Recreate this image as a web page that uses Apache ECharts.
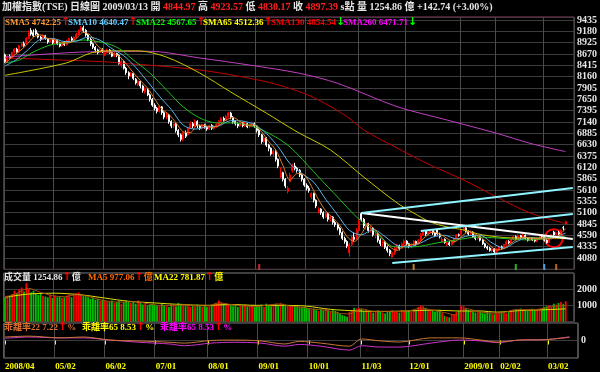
<!DOCTYPE html>
<html><head><meta charset="utf-8">
<script src="https://cdn.jsdelivr.net/npm/echarts@6/dist/echarts.min.js"></script>
<style>html,body{margin:0;padding:0;background:#000;}#c{width:600px;height:372px;}</style>
</head><body><div id="c"></div>
<script>
// ---------- DATA ----------
const tradingDays = [
 ['2008','04',[1,2,3,7,8,9,10,11,14,15,16,17,18,21,22,23,24,25,28,29,30]],
 ['2008','05',[2,5,6,7,8,9,12,13,14,15,16,19,20,21,22,23,26,27,28,29,30]],
 ['2008','06',[2,3,4,5,6,9,10,11,12,13,16,17,18,19,20,23,24,25,26,27,30]],
 ['2008','07',[1,2,3,4,7,8,9,10,11,14,15,16,17,18,21,22,23,24,25,29,30,31]],
 ['2008','08',[1,4,5,6,7,8,11,12,13,14,15,18,19,20,21,22,25,26,27,28,29]],
 ['2008','09',[1,2,3,4,5,8,9,10,11,12,15,16,17,18,19,22,23,24,25,26,30]],
 ['2008','10',[1,2,3,6,7,8,9,13,14,15,16,17,20,21,22,23,24,27,28,29,30,31]],
 ['2008','11',[3,4,5,6,7,10,11,12,13,14,17,18,19,20,21,24,25,26,27,28]],
 ['2008','12',[1,2,3,4,5,8,9,10,11,12,15,16,17,18,19,22,23,24,25,26,29,30,31]],
 ['2009','01',[5,6,7,8,9,10,12,13,14,15,16,19,20,21,22]],
 ['2009','02',[2,3,4,5,6,9,10,11,12,13,16,17,18,19,20,23,24,25,26,27]],
 ['2009','03',[2,3,4,5,6,9,10,11,12,13]]
];
const padCategories = ['p1','p2','p3'];

const opens = [
8650,8500,8620,8580,8700,8780,8720,8850,8900,8900,9020,9200,9150,9200,9120,9050,9000,9080,9000,8940,8990,
8920,8980,8900,8850,8920,8880,8950,9020,8980,9050,9120,9200,9260,9200,9100,9000,8900,8820,8760,8700,8760,
8640,8700,8760,8700,8620,8680,8640,8420,8500,8350,8250,8180,8230,8100,7980,8050,7950,7820,7880,7750,7650,
7520,7450,7380,7480,7350,7250,7300,7150,7050,7100,6950,6850,6750,6900,6850,7000,7100,7050,7150,7050,7000,7080,
7020,6980,7060,7000,7040,7080,7150,7220,7180,7260,7340,7250,7150,7100,7050,7120,7060,7100,7030,7080,7100,
7050,6950,6850,6700,6780,6620,6550,6420,6480,6300,5900,6000,5850,5580,5800,6050,6150,6100,6050,5950,5850,
5720,5650,5450,5530,5380,5100,5180,5100,5000,5080,4950,5000,4880,4830,4750,4650,4520,4450,4200,4380,4550,4500,
4700,5080,4950,4800,4850,4700,4750,4600,4620,4480,4400,4450,4320,4250,4100,4200,4300,4350,4300,4400,
4460,4400,4340,4380,4450,4400,4480,4600,4680,4620,4660,4700,4640,4720,4620,4440,4500,4380,4420,4380,4440,4520,4600,
4600,4700,4760,4680,4620,4660,4560,4520,4560,4480,4400,4330,4300,4250,4280,
4220,4260,4330,4300,4380,4450,4420,4500,4560,4520,4580,4540,4590,4520,4480,4530,4490,4460,4520,4580,
4557,4480,4430,4520,4660,4600,4650,4620,4760,4844.97];
const closes = [
8500,8620,8580,8700,8780,8720,8850,8900,8860,9020,9150,9120,9080,9120,9050,9000,9080,9020,8940,8990,8920,
8980,8900,8850,8920,8880,8950,9020,8980,9050,9120,9200,9260,9200,9100,9000,8900,8820,8760,8700,8760,8720,
8700,8760,8700,8620,8680,8640,8450,8500,8350,8250,8180,8230,8120,8020,8060,7950,7850,7880,7750,7650,7520,
7450,7380,7480,7350,7250,7320,7150,7050,7100,6950,6850,6750,6900,6820,7000,7100,7050,7150,7050,7000,7080,7020,
6980,7060,7000,7040,7080,7150,7220,7180,7260,7340,7250,7150,7100,7050,7120,7060,7100,7030,7080,7100,7050,
6950,6850,6700,6780,6620,6550,6420,6480,6300,6150,6000,5850,5700,5650,5950,6150,6100,6050,5950,5850,5720,
5650,5600,5530,5380,5250,5180,5100,5000,5080,4950,5000,4880,4830,4750,4650,4520,4450,4350,4380,4550,4500,4700,
4900,4950,4800,4850,4700,4750,4600,4620,4480,4400,4450,4320,4250,4180,4200,4300,4350,4300,4400,4460,
4400,4340,4380,4450,4400,4480,4600,4680,4620,4660,4700,4640,4580,4620,4560,4500,4430,4420,4380,4440,4520,4600,4591,
4700,4760,4680,4620,4660,4560,4520,4560,4480,4400,4330,4300,4250,4280,4220,
4260,4330,4300,4380,4450,4420,4500,4560,4520,4580,4540,4590,4520,4480,4530,4490,4460,4520,4580,4557,
4480,4430,4520,4600,4600,4650,4620,4700,4755,4897.39];
const lows = [
8470,8480,8550,8560,8680,8700,8700,8820,8830,8880,9000,9080,9050,9090,9020,8960,8980,8990,8900,8910,8880,
8900,8870,8820,8830,8850,8860,8930,8950,8960,9030,9100,9180,9150,9060,8960,8850,8780,8700,8660,8680,8690,
8620,8680,8670,8600,8600,8600,8430,8360,8320,8200,8100,8150,8080,7980,7950,7900,7800,7780,7720,7600,7480,
7400,7330,7350,7300,7200,7200,7100,7000,7000,6900,6800,6700,6710,6780,6830,6980,7000,7030,7000,6960,6970,6990,
6940,6960,6960,6970,7010,7060,7130,7150,7160,7240,7200,7100,7060,7000,7030,7020,7030,7000,7000,7040,7010,
6900,6800,6650,6660,6580,6480,6380,6350,6250,6100,5880,5800,5650,5530,5780,6000,6050,6000,5900,5800,5680,
5600,5550,5400,5330,5200,5080,5050,4960,4980,4900,4900,4830,4780,4700,4600,4480,4400,4300,4110,4350,4450,4480,
4680,4900,4750,4720,4650,4650,4560,4520,4430,4350,4330,4280,4200,4120,4090,4150,4260,4250,4280,4370,
4360,4300,4300,4350,4360,4380,4460,4580,4580,4600,4640,4600,4550,4600,4520,4420,4400,4350,4350,4360,4420,4500,4560,
4590,4680,4650,4580,4600,4530,4480,4490,4450,4370,4300,4260,4220,4200,4180,
4190,4240,4270,4280,4360,4390,4400,4480,4490,4500,4510,4520,4490,4450,4460,4460,4430,4440,4500,4530,
4450,4400,4410,4500,4580,4580,4590,4600,4700,4830.17];
const highs = [
8680,8640,8660,8720,8800,8810,8870,8940,8950,9050,9200,9250,9220,9240,9150,9080,9110,9100,9030,9020,9010,
9010,9000,8930,8950,8960,8990,9040,9060,9080,9150,9220,9300,9309,9230,9120,9030,8930,8850,8790,8790,8800,
8730,8790,8780,8720,8710,8700,8660,8560,8520,8380,8280,8260,8250,8130,8080,8070,7980,7920,7900,7780,7680,
7560,7480,7500,7500,7380,7350,7320,7180,7150,7120,6980,6880,6920,6950,7030,7150,7140,7200,7180,7080,7100,7100,
7050,7080,7090,7070,7120,7180,7250,7260,7300,7370,7370,7270,7180,7130,7150,7140,7140,7120,7110,7150,7130,
7070,6980,6870,6820,6800,6650,6570,6520,6500,6320,6120,6020,5880,5700,6000,6200,6220,6130,6080,5980,5880,
5760,5700,5560,5550,5400,5220,5200,5130,5120,5100,5040,5020,4920,4860,4780,4680,4560,4480,4420,4600,4650,4750,
4950,5115,4980,4880,4870,4800,4770,4680,4650,4520,4480,4470,4360,4280,4250,4330,4400,4380,4430,4500,
4480,4420,4420,4480,4470,4500,4640,4710,4710,4700,4720,4720,4670,4740,4650,4560,4520,4450,4460,4470,4550,4620,4630,
4730,4780,4790,4700,4700,4680,4590,4580,4580,4500,4420,4360,4330,4310,4300,
4300,4360,4360,4400,4480,4480,4530,4590,4590,4610,4600,4620,4610,4540,4560,4550,4510,4540,4600,4600,
4570,4500,4540,4620,4690,4680,4690,4720,4800,4923.57];
const volumes = [
1450,1600,1550,1700,1900,1750,2000,2100,1850,2375,2000,1800,1900,1700,1650,1750,1600,1550,1500,1650,1450,
1600,1500,1550,1450,1500,1600,1650,1500,1700,1750,1800,1650,1600,1550,1500,1400,1450,1350,1400,1300,1350,
1300,1250,1200,1300,1150,1200,1250,1100,1200,1300,1250,1150,1200,1100,1300,1150,1050,1100,1000,1050,1100,
1050,1000,950,1100,1000,950,900,1050,1000,950,1150,1100,1000,950,1050,900,1000,950,1050,1000,900,950,
900,950,1000,1050,1100,1300,1200,1100,1150,1050,1000,950,1000,900,950,1000,1050,900,950,1000,900,
950,1000,1050,900,1100,1000,950,1050,1100,1000,1150,1100,1050,1000,950,900,1000,950,900,850,900,
850,800,750,800,700,650,750,700,800,650,600,700,650,600,500,400,350,300,600,700,850,800,
850,800,650,700,600,650,550,600,700,650,550,500,600,650,700,650,600,550,700,650,
650,700,600,700,650,900,1000,950,850,700,650,700,600,650,700,550,350,300,250,400,450,600,650,
1000,950,800,700,650,600,550,650,600,550,500,600,550,500,450,
500,550,600,550,500,600,650,700,750,700,800,750,700,650,750,800,700,750,800,750,
900,950,1000,900,1100,1050,1150,1200,1100,1255];

// moving averages: [day index, value]
const sma5 = [[0,8450],[3,8600],[6,8730],[9,8870],[12,9050],[15,9100],[18,9020],[21,8990],[24,8920],[27,8920],[30,9020],[33,9160],[36,9090],[39,8850],[42,8740],[45,8690],[48,8620],[51,8450],[54,8250],[57,8070],[60,7900],[63,7660],[66,7430],[69,7310],[72,7120],[75,6920],[78,6900],[81,7070],[84,7060],[87,7020],[90,7060],[93,7180],[96,7240],[99,7150],[102,7070],[105,7070],[108,6920],[111,6700],[114,6510],[117,6160],[120,5830],[123,5980],[126,5950],[129,5690],[132,5390],[135,5140],[138,4980],[141,4810],[144,4560],[147,4450],[150,4620],[153,4840],[156,4700],[159,4520],[162,4330],[165,4250],[168,4360],[171,4380],[174,4410],[177,4560],[180,4660],[183,4620],[186,4520],[189,4440],[192,4550],[195,4670],[198,4610],[201,4520],[204,4370],[207,4260],[210,4290],[213,4410],[216,4510],[219,4550],[222,4520],[225,4510],[228,4510],[231,4520],[234,4630],[236,4742.25]];
const sma10 = [[0,8400],[5,8550],[10,8780],[15,9000],[20,9020],[25,8950],[30,8960],[35,9050],[40,8980],[45,8790],[50,8630],[55,8370],[60,8050],[65,7720],[70,7420],[75,7070],[80,6980],[85,7030],[90,7050],[95,7170],[100,7160],[105,7080],[110,6880],[115,6580],[120,6200],[125,5980],[130,5780],[135,5400],[140,5050],[145,4700],[150,4600],[155,4720],[160,4560],[165,4360],[170,4330],[175,4420],[180,4550],[185,4590],[190,4510],[195,4580],[200,4590],[205,4420],[210,4300],[215,4440],[220,4540],[225,4520],[230,4530],[236,4640.47]];
const sma22 = [[0,8470],[6,8535],[12,8715],[19,8870],[26,8920],[33,8985],[40,8940],[45,8870],[49,8760],[53,8580],[61,8240],[68,7860],[75,7480],[82,7230],[89,7120],[95,7120],[105,7030],[114,6800],[119,6620],[123,6420],[132,5900],[140,5450],[148,5000],[155,4710],[164,4330],[172,4330],[182,4420],[190,4485],[199,4550],[207,4530],[221,4485],[232,4550],[236,4567.65]];
const sma65 = [[0,8190],[26,8470],[36,8690],[44,8740],[56,8740],[68,8600],[82,8240],[95,7815],[110,7340],[123,6915],[137,6510],[151,5900],[165,5320],[172,5092],[179,4890],[186,4780],[193,4710],[201,4600],[214,4530],[229,4530],[236,4512.36]];
const sma130 = [[0,8580],[40,8500],[48,8470],[82,8310],[110,8045],[124,7820],[132,7635],[144,7260],[151,6960],[165,6555],[179,6172],[193,5835],[207,5452],[221,5092],[236,4854.54]];
const sma260 = [[0,8600],[36,8720],[61,8730],[82,8580],[103,8420],[124,8235],[140,8010],[165,7485],[186,7185],[207,6885],[221,6660],[236,6471.71]];

const volMa5 = [[0,1500],[5,1750],[10,2050],[15,1800],[20,1600],[25,1530],[30,1650],[35,1550],[40,1350],[45,1220],[50,1200],[55,1230],[60,1100],[65,1000],[70,1000],[75,1030],[80,980],[85,960],[90,1150],[95,1050],[100,960],[105,930],[110,1000],[115,1080],[120,950],[125,880],[130,760],[135,700],[140,520],[145,470],[150,780],[155,630],[160,630],[165,620],[170,660],[175,820],[180,700],[185,550],[190,400],[194,800],[200,590],[206,520],[210,560],[215,730],[220,730],[225,760],[230,930],[236,977.06]];
const volMa22 = [[0,1500],[10,1700],[21,1750],[32,1650],[42,1450],[52,1250],[63,1150],[74,1050],[85,1000],[95,1050],[106,1000],[116,1000],[127,950],[137,750],[149,650],[159,620],[169,650],[180,700],[192,650],[200,650],[207,580],[217,680],[227,730],[236,781.87]];

const bias22 = [[0,8],[10,10],[23,6],[33,8],[44,1],[56,-1],[69,-4],[75,-6],[86,0],[96,1],[107,-1],[117,-8],[123,-2],[132,-6],[144,-13],[149,3.5],[157,-1],[165,-3.5],[178,6],[190,6],[199,1],[206,-3.5],[215,1],[226,2],[236,7.22]];
const bias65 = [[0,5],[10,8],[23,6],[33,6],[44,1],[56,-4],[69,-8],[75,-12],[86,-6],[96,-4],[107,-6],[117,-13],[123,-9],[132,-13],[144,-22],[149,-12],[157,-15],[165,-15],[178,-6],[190,1],[199,-1],[206,-4.7],[215,1],[226,2],[236,8.53]];

// drawn trend lines: [fromIndex, fromPrice, toIndex, toPrice]
const trendLines = [[150,5092,239,4507],[150,5092,239,5655],[175,4688,239,5070],[163,3967,239,4327]];
const circleAt = [231.3, 4523];
const markerIdx = [107,172,215,227,232];
const markerPrice = 3877;

const priceTicks = {min:3825, max:9502, step:255, first:4080, last:9435};

// ---------- BUILD ----------
const categories = [];
tradingDays.forEach(([y,m,ds]) => ds.forEach(d => categories.push(y+'/'+m+'/'+String(d).padStart(2,'0'))));
const allCats = categories.concat(padCategories);
const monthStarts = new Set();
categories.forEach((c,i) => { if (i===0 || c.slice(0,7)!==categories[i-1].slice(0,7)) monthStarts.add(i); });
const isStart = (i) => monthStarts.has(i);

const candleData = opens.map((o,i)=>[o, closes[i], lows[i], highs[i]]);
const volData = volumes.map((v,i)=>({value:v, itemStyle:{color: closes[i]>=opens[i] ? '#ff0000' : '#00c000'}}));

const SERIF = "'Liberation Serif','Noto Sans CJK TC',serif";
const ARROW = "'DejaVu Sans','Noto Sans',sans-serif";
function rich(fs){
  const base = {fontSize:fs, fontFamily:SERIF, fontWeight:'bold'};
  const c = {w:'#e6e6e6', r:'#ff2020', o:'#ff9933', b:'#66ccff', g:'#00ff00', y:'#ffff00', d:'#ff0000', m:'#ff00ff', br:'#e07030', or:'#ff6a00'};
  const r = {};
  Object.keys(c).forEach(k => r[k] = Object.assign({color:c[k]}, base));
  r.up = {color:'#ff0000', fontSize:fs+2, fontFamily:ARROW, fontWeight:'bold'};
  r.dn = {color:'#00ff00', fontSize:fs+2, fontFamily:ARROW, fontWeight:'bold'};
  return r;
}
function T(left, top, text, fs){
  return {left, top, padding:0, itemGap:0, text, textStyle:{fontSize:fs, fontFamily:SERIF, color:'#e6e6e6', rich:rich(fs)}};
}
const titles = [
  T(2, 2, '{w|加權指數(TSE)} {w|日線圖} {w|2009/03/13} {w|開} {r|4844.97} {w|高} {r|4923.57} {w|低} {r|4830.17} {w|收} {r|4897.39} {w|s點} {w|量} {w|1254.86} {w|億} {w|+142.74 (+3.00%)}', 10),
  T(5, 17, '{o|SMA5 4742.25}{up|↑}', 9),
  T(68, 17, '{b|SMA10 4640.47}{up|↑}', 9),
  T(136, 17, '{g|SMA22 4567.65}{up|↑}', 9),
  T(203, 17, '{y|SMA65 4512.36}{up|↑}', 9),
  T(271, 17, '{d|SMA130 4854.54}{dn|↓}', 9),
  T(343, 17, '{m|SMA260 6471.71}{dn|↓}', 9),
  T(4, 272, '{w|成交量 1254.86}{up|↑}{w|億}', 9),
  T(88, 272, '{or|MA5 977.06}{up|↑}{or|億}', 9),
  T(154, 272, '{y|MA22 781.87}{up|↑}{y|億}', 9),
  T(4, 322, '{br|乖離率22 7.22}{up|↑}{br|%}', 9),
  T(82, 322, '{y|乖離率65 8.53}{up|↑}{y|%}', 9),
  T(160, 322, '{m|乖離率65 8.53}{up|↑}{m|%}', 9)
];

const gridLeft = 3.8, gridWidth = 574.1;
function xAxis(gi, showLab){
  return {
    type:'category', gridIndex:gi, data:allCats, boundaryGap:true,
    axisLine:{show:false},
    axisTick:{show:showLab, interval:isStart, alignWithLabel:true, length:4, lineStyle:{color:'#ffff00'}},
    axisLabel:{show:showLab, interval:isStart, color:'#ffff00', fontSize:9, fontWeight:'bold', fontFamily:SERIF, align:'left', margin:4,
      formatter:(v, idx)=>{ const p = v.split('/'); return (idx===0 || p[1]==='01') ? p[0]+'/'+p[1] : p[1]+'/'+p[2]; }},
    splitLine:{show:true, interval:isStart, lineStyle:{color:'#4a4a4a', width:1}}
  };
}
const yLabel = {color:'#e6e6e6', fontSize:10, fontWeight:'bold', fontFamily:SERIF, margin:3};
const lineS = (data, color, xi, yi, w) => ({type:'line', data, xAxisIndex:xi, yAxisIndex:yi, showSymbol:false, smooth:0.3, lineStyle:{color, width:w||1}, itemStyle:{color}, z:3, silent:true});

const trendColors = ['#ffffff','#8ff4ff','#8ff4ff','#8ff4ff'];

const option = {
  backgroundColor:'#000000',
  animation:false,
  title: titles,
  grid:[
    {left:gridLeft, width:gridWidth, top:17, height:252.3, show:true, borderColor:'#9a3366', borderWidth:1},
    {left:gridLeft, width:gridWidth, top:273, height:48.5, show:true, borderColor:'#808080', borderWidth:1},
    {left:gridLeft, width:gridWidth, top:323, height:35, show:true, borderColor:'#808080', borderWidth:1}
  ],
  xAxis:[xAxis(0,false), xAxis(1,false), xAxis(2,true)],
  yAxis:[
    {gridIndex:0, position:'right', scale:true, min:priceTicks.min, max:priceTicks.max, interval:priceTicks.step,
      axisLine:{show:false}, axisTick:{show:false},
      axisLabel:Object.assign({}, yLabel, {formatter:(v)=> (v>=priceTicks.first && v<=priceTicks.last && Math.abs(v % priceTicks.step) < 0.01) ? String(v) : ''}),
      splitLine:{lineStyle:{color:'#3c3c3c'}}},
    {gridIndex:1, position:'right', min:0, max:3000, interval:1000,
      axisLine:{show:false}, axisTick:{show:false},
      axisLabel:Object.assign({}, yLabel, {formatter:(v)=> (v===1000||v===2000) ? String(v) : ''}),
      splitLine:{lineStyle:{color:'#3c3c3c'}}},
    {gridIndex:2, position:'right', min:-40, max:40, interval:40,
      axisLine:{show:false}, axisTick:{show:false},
      axisLabel:Object.assign({}, yLabel, {formatter:(v)=> v===0 ? '0' : ''}),
      splitLine:{lineStyle:{color:'#3c3c3c'}}}
  ],
  series:[
    {type:'candlestick', xAxisIndex:0, yAxisIndex:0, data:candleData, barWidth:1.5,
      itemStyle:{color:'#ff0000', color0:'#ffffff', borderColor:'#ff0000', borderColor0:'#ffffff', borderWidth:1},
      markLine:{silent:true, symbol:['none','none'], animation:false, label:{show:false},
        data: trendLines.map((t,k)=>[{coord:[t[0],t[1]], lineStyle:{color:trendColors[k], width:2, type:'solid'}},{coord:[t[2],t[3]]}])}
    },
    lineS(sma260,'#c040c0',0,0),
    lineS(sma130,'#c00000',0,0),
    lineS(sma65,'#c8c800',0,0),
    lineS(sma22,'#20c020',0,0),
    lineS(sma10,'#5ab4e6',0,0),
    lineS(sma5,'#e08020',0,0),
    {type:'scatter', xAxisIndex:0, yAxisIndex:0, symbol:'rect', symbolSize:[2,6], silent:true,
      data: markerIdx.map((x,k)=>({value:[x, markerPrice], itemStyle:{color:['#ff3030','#e0a030','#30e030','#60c0ff','#e08030'][k]}}))},
    {type:'bar', xAxisIndex:1, yAxisIndex:1, data:volData, barWidth:1.8, silent:true},
    lineS(volMa22,'#e0e000',1,1),
    lineS(volMa5,'#a05010',1,1),
    lineS(bias65,'#cc33cc',2,2),
    lineS(bias22,'#c87533',2,2)
  ]
};
const chart = echarts.init(document.getElementById('c'), null, {renderer:'canvas'});
chart.setOption(option);
const cp = chart.convertToPixel({xAxisIndex:0, yAxisIndex:0}, circleAt);
chart.setOption({graphic:[{type:'circle', shape:{cx:cp[0], cy:cp[1], r:9}, style:{fill:'none', stroke:'#ff0000', lineWidth:2}, silent:true}]});
</script></body></html>
